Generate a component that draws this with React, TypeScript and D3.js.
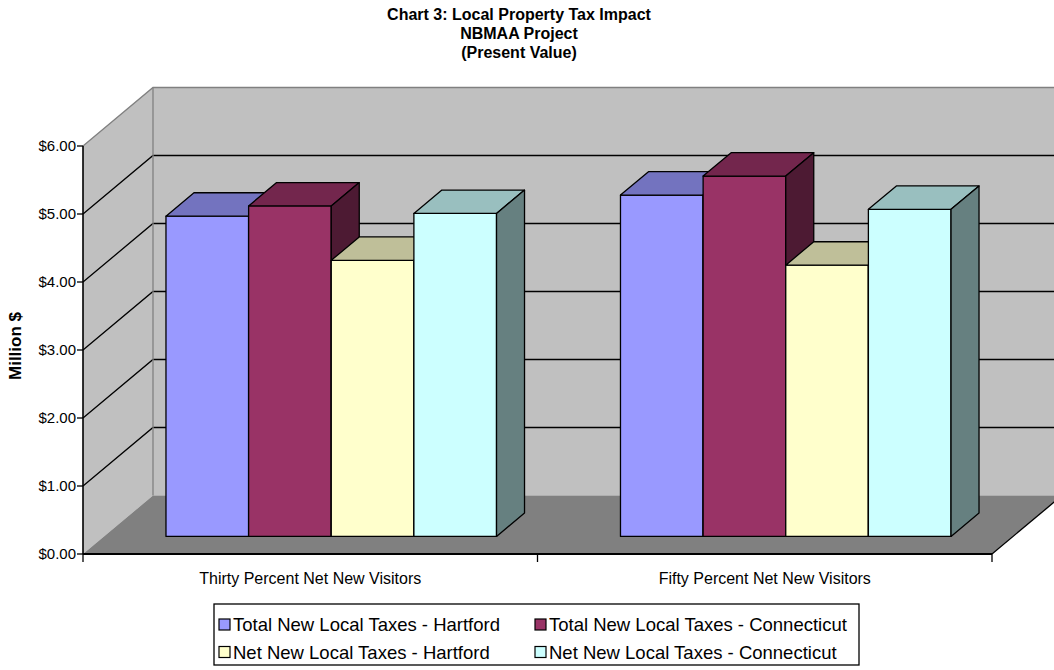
import React from "react";
import * as d3 from "d3";

// Chart data
const categories = ["Thirty Percent Net New Visitors", "Fifty Percent Net New Visitors"];
const seriesNames = [
  "Total New Local Taxes - Hartford",
  "Total New Local Taxes - Connecticut",
  "Net New Local Taxes - Hartford",
  "Net New Local Taxes - Connecticut",
];
const seriesColors = ["#9999FF", "#993366", "#FFFFCC", "#CCFFFF"];
const hartfordTotal = [4.71, 5.02];
const connecticutTotal = [4.86, 5.3];
const hartfordNet = [4.06, 3.99];
const connecticutNet = [4.75, 4.81];
const yTicks = [0, 1, 2, 3, 4, 5, 6];
const titleLines = ["Chart 3: Local Property Tax Impact", "NBMAA Project", "(Present Value)"];

const seriesValues = [hartfordTotal, connecticutTotal, hartfordNet, connecticutNet];

const W = 1054;
const H = 670;
const FONT = "'Liberation Sans', Arial, sans-serif";

// 3D frame layout
const left = 83;
const right = 992;
const depthX = 70;
const depthY = 58.5;
const z0 = 0.3; // front plane of the columns
const z1 = 0.7; // back plane of the columns

const y = d3.scaleLinear().domain([0, 6]).range([554, 146]);
const x = d3.scaleBand<string>().domain(categories).range([left, right]).padding(0);

type Pt = [number, number];
const P = (px: number, v: number, z: number): Pt => [px + z * depthX, y(v) - z * depthY];
const poly = (pts: Pt[]) => pts.map((p) => p.join(",")).join(" ");

const shade = (c: string, k: number) => {
  const col = d3.rgb(c);
  return d3.rgb(col.r * k, col.g * k, col.b * k).formatHex();
};

export default function App() {
  const band = x.bandwidth();
  const barW = band / 5.5;
  const groupOffset = barW * 0.75;

  const bars: { xl: number; xr: number; v: number; color: string; key: string }[] = [];
  categories.forEach((cat, ci) => {
    seriesValues.forEach((vals, si) => {
      const xl = (x(cat) as number) + groupOffset + si * barW;
      bars.push({ xl, xr: xl + barW, v: vals[ci], color: seriesColors[si], key: `${ci}-${si}` });
    });
  });

  const gridVals = yTicks.filter((t) => t > 0 && t < 6);
  const catBounds = [left, ...categories.map((c) => (x(c) as number) + band)];

  return (
    <svg width={W} height={H} style={{ position: "absolute", left: 0, top: 0, background: "#fff" }} fontFamily={FONT}>
      {/* Title */}
      <g fontWeight="bold" fontSize={16} textAnchor="middle" fill="#000">
        {titleLines.map((t, i) => (
          <text key={t} x={519} y={20 + i * 19}>
            {t}
          </text>
        ))}
      </g>

      {/* Walls and floor */}
      <polygon points={poly([P(left, 0, 0), P(left, 6, 0), P(left, 6, 1), P(left, 0, 1)])} fill="#C0C0C0" />
      <polygon points={poly([P(left, 0, 1), P(left, 6, 1), P(right, 6, 1), P(right, 0, 1)])} fill="#C0C0C0" />
      <polygon points={poly([P(left, 0, 0), P(right, 0, 0), P(right, 0, 1), P(left, 0, 1)])} fill="#808080" />

      {/* Gridlines */}
      {gridVals.map((v) => (
        <polyline
          key={v}
          points={poly([P(left, v, 0), P(left, v, 1), P(right, v, 1)])}
          fill="none"
          stroke="#000"
          strokeWidth={1.3}
        />
      ))}

      {/* Wall edges */}
      <polyline points={poly([P(left, 6, 0), P(left, 6, 1), P(right, 6, 1)])} fill="none" stroke="#808080" strokeWidth={1.3} />
      <line x1={P(left, 0, 1)[0]} y1={P(left, 0, 1)[1]} x2={P(left, 6, 1)[0]} y2={P(left, 6, 1)[1]} stroke="#808080" strokeWidth={1.3} />
      <line x1={P(right, 0, 0)[0]} y1={P(right, 0, 0)[1]} x2={P(right, 0, 1)[0]} y2={P(right, 0, 1)[1]} stroke="#000" strokeWidth={1.3} />

      {/* Columns */}
      <g stroke="#000" strokeWidth={1.3} strokeLinejoin="round">
        {bars.map((b) => (
          <g key={b.key}>
            <polygon points={poly([P(b.xl, 0, z0), P(b.xr, 0, z0), P(b.xr, b.v, z0), P(b.xl, b.v, z0)])} fill={b.color} />
            <polygon points={poly([P(b.xl, b.v, z0), P(b.xr, b.v, z0), P(b.xr, b.v, z1), P(b.xl, b.v, z1)])} fill={shade(b.color, 0.75)} />
            <polygon points={poly([P(b.xr, 0, z0), P(b.xr, 0, z1), P(b.xr, b.v, z1), P(b.xr, b.v, z0)])} fill={shade(b.color, 0.5)} />
          </g>
        ))}
      </g>

      {/* Category axis */}
      <line x1={left} y1={y(0)} x2={right} y2={y(0)} stroke="#000" strokeWidth={2} />
      {catBounds.map((bx, i) => (
        <line key={i} x1={bx} y1={y(0)} x2={bx} y2={y(0) + 8} stroke="#000" strokeWidth={1.3} />
      ))}
      <g fontSize={16} textAnchor="middle" fill="#000">
        {categories.map((c) => (
          <text key={c} x={(x(c) as number) + band / 2} y={584}>
            {c}
          </text>
        ))}
      </g>

      {/* Value axis */}
      <line x1={left} y1={y(0)} x2={left} y2={y(6)} stroke="#000" strokeWidth={1.6} />
      {yTicks.map((t) => (
        <g key={t}>
          <line x1={left - 6} y1={y(t)} x2={left} y2={y(t)} stroke="#000" strokeWidth={1.3} />
          <text x={left - 7} y={y(t)} dy="0.35em" fontSize={15} textAnchor="end" fill="#000">
            {d3.format("$.2f")(t)}
          </text>
        </g>
      ))}
      <text
        transform={`translate(21, ${(y(0) + y(6)) / 2 - 4}) rotate(-90)`}
        textAnchor="middle"
        fontSize={17}
        fontWeight="bold"
        fill="#000"
      >
        Million $
      </text>

      {/* Legend */}
      <rect x={214} y={604} width={645} height={61} fill="#fff" stroke="#000" strokeWidth={1.3} />
      {seriesNames.map((name, i) => {
        const col = i % 2;
        const row = Math.floor(i / 2);
        const lx = col === 0 ? 219 : 535;
        const cy = 624.5 + row * 27.5;
        return (
          <g key={name}>
            <rect x={lx} y={cy - 5.5} width={11} height={11} fill={seriesColors[i]} stroke="#000" strokeWidth={1.2} />
            <text x={lx + 14} y={cy} dy="0.36em" fontSize={18.5} fill="#000">
              {name}
            </text>
          </g>
        );
      })}
    </svg>
  );
}
